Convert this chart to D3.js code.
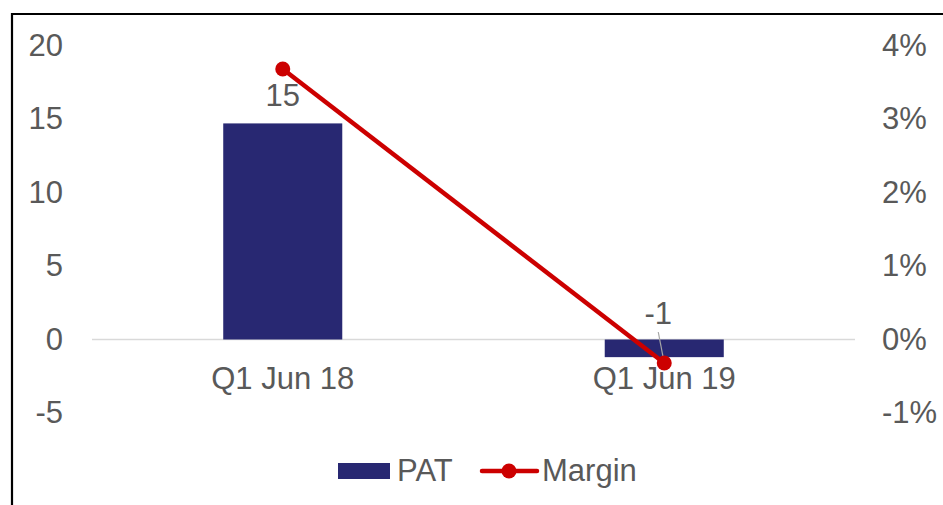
<!DOCTYPE html>
<html><head><meta charset="utf-8">
<script src="https://cdn.jsdelivr.net/npm/d3@7"></script>
<style>body{margin:0;background:#fff}svg{display:block}text{font-family:"Liberation Sans",Arial,sans-serif;fill:#595959}</style>
</head><body><svg id="c" width="943" height="505"></svg>
<script>
const categories = ["Q1 Jun 18", "Q1 Jun 19"];
const patValues = [14.7, -1.2];
const patLabels = ["15", "-1"];
const marginValues = [0.0368, -0.0032];
const leftTicks = [20, 15, 10, 5, 0, -5];
const rightTicks = [0.04, 0.03, 0.02, 0.01, 0, -0.01];

const svg = d3.select("#c");
const fs = 31;
const x = d3.scaleBand().domain(categories).range([92, 855]).paddingInner(0.688).paddingOuter(0.344);
const yL = d3.scaleLinear().domain([-5, 20]).range([413, 45.5]);
const yR = d3.scaleLinear().domain([-0.01, 0.04]).range([413, 45.5]);

// frame
svg.append("path").attr("d", "M12,505V14H943").attr("fill","none").attr("stroke","#000").attr("stroke-width",2.2);

// left axis
const gL = svg.append("g").attr("transform","translate(63,0)")
  .call(d3.axisLeft(yL).tickValues(leftTicks).tickSize(0).tickPadding(0).tickFormat(d => String(d)));
gL.select(".domain").remove();
gL.selectAll("text").attr("font-size", fs).attr("fill","#595959").style("font-family","Liberation Sans, Arial, sans-serif");

// right axis
const gR = svg.append("g").attr("transform","translate(882,0)")
  .call(d3.axisRight(yR).tickValues(rightTicks).tickSize(0).tickPadding(0).tickFormat(d => Math.round(d*100) + "%"));
gR.select(".domain").remove();
gR.selectAll("text").attr("font-size", fs).attr("fill","#595959").style("font-family","Liberation Sans, Arial, sans-serif");

// zero line
svg.append("line").attr("x1",92).attr("x2",855).attr("y1",yL(0)).attr("y2",yL(0)).attr("stroke","#d9d9d9").attr("stroke-width",1.5);

// bars
svg.selectAll("rect.bar").data(categories).join("rect").attr("class","bar")
  .attr("x", d => x(d)).attr("width", x.bandwidth())
  .attr("y", (d,i) => Math.min(yL(0), yL(patValues[i])))
  .attr("height", (d,i) => Math.abs(yL(patValues[i]) - yL(0)))
  .attr("fill", "#282872");

// category labels
svg.selectAll("text.cat").data(categories).join("text").attr("class","cat")
  .attr("x", d => x(d) + x.bandwidth()/2).attr("y", 378).attr("dy","0.35em")
  .attr("text-anchor","middle").attr("font-size", fs).text(d => d);

// leader line for second label
const c2 = x(categories[1]) + x.bandwidth()/2;
svg.append("line").attr("x1", c2-6).attr("y1", 332).attr("x2", c2).attr("y2", yR(marginValues[1]))
  .attr("stroke","#a6a6a6").attr("stroke-width",1.2);

// data labels
const labelPos = [{dx:0, y:95}, {dx:-6, y:313}];
svg.selectAll("text.dl").data(categories).join("text").attr("class","dl")
  .attr("x", (d,i) => x(d) + x.bandwidth()/2 + labelPos[i].dx).attr("y", (d,i) => labelPos[i].y).attr("dy","0.35em")
  .attr("text-anchor","middle").attr("font-size", fs).text((d,i) => patLabels[i]);

// margin line
const line = d3.line().x((d,i) => x(categories[i]) + x.bandwidth()/2).y(d => yR(d));
svg.append("path").datum(marginValues).attr("d", line).attr("fill","none").attr("stroke","#cc0000").attr("stroke-width",4.5);
svg.selectAll("circle.m").data(marginValues).join("circle").attr("class","m")
  .attr("cx", (d,i) => x(categories[i]) + x.bandwidth()/2).attr("cy", d => yR(d)).attr("r", 7.5).attr("fill","#cc0000");

// legend
const lg = svg.append("g");
lg.append("rect").attr("x",338).attr("y",463).attr("width",52).attr("height",16).attr("fill","#282872");
lg.append("text").attr("x",397).attr("y",470).attr("dy","0.35em").attr("font-size",fs).text("PAT");
lg.append("line").attr("x1",482).attr("x2",537).attr("y1",471).attr("y2",471).attr("stroke","#cc0000").attr("stroke-width",4.5).attr("stroke-linecap","round");
lg.append("circle").attr("cx",509).attr("cy",471).attr("r",7.5).attr("fill","#cc0000");
lg.append("text").attr("x",542).attr("y",470).attr("dy","0.35em").attr("font-size",fs).text("Margin");
</script></body></html>
